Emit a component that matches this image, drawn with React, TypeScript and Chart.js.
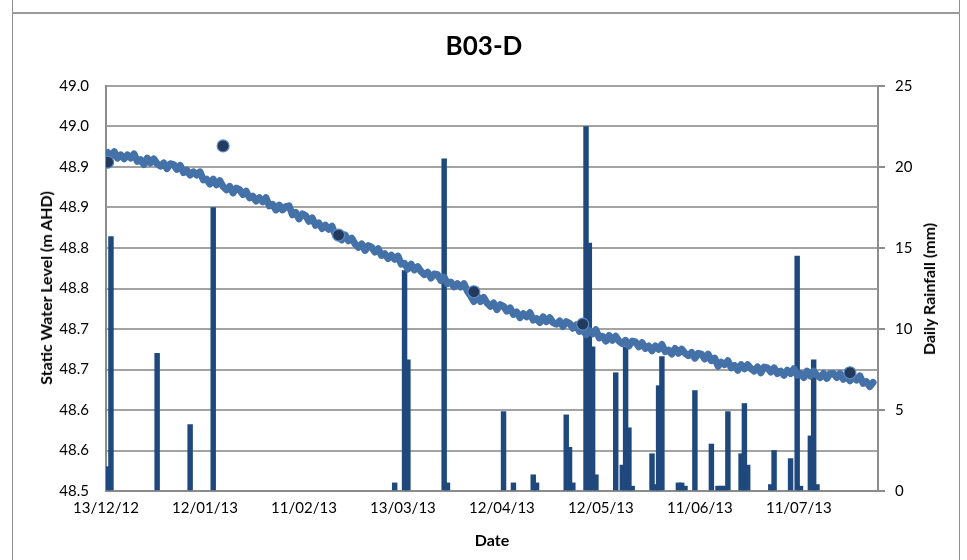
import React, { useEffect, useRef } from 'react';
import { Chart, registerables } from 'chart.js';

Chart.register(...registerables);

const TITLE = 'B03-D';
const X_TITLE = 'Date';
const Y_LEFT_TITLE = 'Static Water Level (m AHD)';
const Y_RIGHT_TITLE = 'Daily Rainfall (mm)';

// x axis: days since 13/12/12
const X_TICK_DAYS = [0, 30, 60, 90, 120, 150, 180, 210];
const X_TICK_LABELS = ['13/12/12', '12/01/13', '11/02/13', '13/03/13', '12/04/13', '12/05/13', '11/06/13', '11/07/13'];
const X_MAX_DAY = 234;

const LEFT_TICK_VALUES = [48.5, 48.55, 48.6, 48.65, 48.7, 48.75, 48.8, 48.85, 48.9, 48.95, 49.0];
const LEFT_TICK_LABELS = ['48.5', '48.6', '48.6', '48.7', '48.7', '48.8', '48.8', '48.9', '48.9', '49.0', '49.0'];
const RIGHT_TICK_VALUES = [0, 5, 10, 15, 20, 25];

// daily rainfall (day since 13/12/12, mm)
const RAIN_DAYS = [0, 1, 15, 25, 32, 87, 90, 91, 102, 103, 120, 123, 129, 130, 139, 140, 141, 145, 146, 147, 148,
  154, 156, 157, 158, 159, 165, 166, 167, 168, 173, 174, 175, 178, 183, 185, 186, 187, 188, 192, 193, 194,
  201, 202, 207, 209, 210, 213, 214, 215];
const RAIN_MM = [1.5, 15.7, 8.5, 4.1, 17.5, 0.5, 13.6, 8.1, 20.5, 0.5, 4.9, 0.5, 1.0, 0.5, 4.7, 2.7, 0.5, 22.5, 15.3, 8.9, 1.0,
  7.3, 1.6, 8.9, 3.9, 0.3, 2.3, 0.4, 6.5, 8.3, 0.5, 0.5, 0.3, 6.2, 2.9, 0.3, 0.3, 0.3, 4.9, 2.3, 5.4, 1.6,
  0.4, 2.5, 2.0, 14.5, 0.3, 3.4, 8.1, 0.4];

// logger water level, one value per day since 13/12/12 (m AHD)
const LEVEL_DAILY = [
  48.918, 48.913, 48.919, 48.911, 48.915, 48.910, 48.915, 48.911, 48.916, 48.907,
  48.909, 48.903, 48.911, 48.905, 48.910, 48.904, 48.901, 48.905, 48.898, 48.904,
  48.903, 48.897, 48.902, 48.893, 48.896, 48.890, 48.894, 48.890, 48.894, 48.884,
  48.885, 48.879, 48.885, 48.878, 48.883, 48.876, 48.872, 48.876, 48.868, 48.874,
  48.872, 48.866, 48.870, 48.862, 48.864, 48.858, 48.862, 48.857, 48.862, 48.852,
  48.854, 48.847, 48.853, 48.847, 48.851, 48.852, 48.841, 48.844, 48.836, 48.842,
  48.840, 48.833, 48.837, 48.828, 48.831, 48.824, 48.828, 48.823, 48.827, 48.816,
  48.817, 48.810, 48.816, 48.809, 48.812, 48.805, 48.801, 48.805, 48.797, 48.803,
  48.801, 48.795, 48.799, 48.791, 48.793, 48.787, 48.791, 48.786, 48.790, 48.780,
  48.781, 48.774, 48.780, 48.773, 48.777, 48.771, 48.767, 48.770, 48.763, 48.768,
  48.767, 48.760, 48.764, 48.756, 48.758, 48.752, 48.756, 48.752, 48.756, 48.747,
  48.741, 48.734, 48.741, 48.734, 48.739, 48.732, 48.728, 48.732, 48.724, 48.730,
  48.728, 48.722, 48.726, 48.718, 48.721, 48.714, 48.719, 48.715, 48.720, 48.711,
  48.713, 48.708, 48.715, 48.709, 48.714, 48.708, 48.706, 48.710, 48.703, 48.709,
  48.707, 48.701, 48.705, 48.697, 48.700, 48.693, 48.698, 48.694, 48.699, 48.689,
  48.691, 48.685, 48.692, 48.686, 48.691, 48.685, 48.682, 48.686, 48.679, 48.685,
  48.684, 48.678, 48.683, 48.676, 48.679, 48.673, 48.679, 48.675, 48.681, 48.672,
  48.674, 48.669, 48.676, 48.670, 48.675, 48.670, 48.667, 48.671, 48.664, 48.670,
  48.669, 48.663, 48.669, 48.661, 48.664, 48.654, 48.659, 48.656, 48.661, 48.652,
  48.655, 48.649, 48.656, 48.651, 48.656, 48.651, 48.648, 48.653, 48.646, 48.653,
  48.652, 48.647, 48.652, 48.645, 48.648, 48.643, 48.649, 48.645, 48.651, 48.643,
  48.645, 48.640, 48.648, 48.642, 48.648, 48.643, 48.640, 48.645, 48.639, 48.645,
  48.645, 48.640, 48.645, 48.638, 48.642, 48.636, 48.641, 48.637, 48.642, 48.633,
  48.635, 48.629, 48.634,
];

// manual dip measurements
const MANUAL_DAYS = [0, 35, 70, 111, 144, 225];
const MANUAL_LEVEL = [48.906, 48.926, 48.816, 48.746, 48.706, 48.646];

const FONT = 'Lato, "DejaVu Sans", sans-serif';
const AXIS_GREY = '#8c8c8c';
const GRID_GREY = '#a3a3a3';

export default function App() {
  const canvasRef = useRef<HTMLCanvasElement | null>(null);

  useEffect(() => {
    const canvas = canvasRef.current;
    if (!canvas) return;
    const chart = new Chart(canvas, {
      type: 'bar',
      data: {
        datasets: [
          {
            type: 'line',
            label: 'Manual',
            data: MANUAL_DAYS.map((d, i) => ({ x: d + 0.5, y: MANUAL_LEVEL[i] })),
            yAxisID: 'yL',
            xAxisID: 'x',
            showLine: false,
            pointRadius: 6,
            pointHoverRadius: 6,
            pointBackgroundColor: '#233a5c',
            pointBorderColor: '#5a8ac6',
            pointBorderWidth: 1.2,
            order: 0,
          } as any,
          {
            type: 'line',
            label: 'Logger',
            data: LEVEL_DAILY.map((v, i) => ({ x: i + 0.5, y: v })),
            yAxisID: 'yL',
            xAxisID: 'x',
            borderColor: '#4571a9',
            borderWidth: 7,
            borderJoinStyle: 'round',
            borderCapStyle: 'round',
            pointRadius: 0,
            tension: 0,
            order: 1,
          } as any,
          {
            type: 'bar',
            label: 'Rain',
            data: RAIN_DAYS.map((d, i) => ({ x: d + 0.5, y: RAIN_MM[i] })),
            yAxisID: 'yR',
            xAxisID: 'x',
            backgroundColor: '#1f497d',
            borderWidth: 0,
            barThickness: 4.8,
            grouped: false,
            order: 2,
          } as any,
        ],
      },
      options: {
        animation: false,
        responsive: false,
        events: [],
        layout: { padding: { top: 86, left: 0, right: 0, bottom: 0 } },
        plugins: {
          legend: { display: false },
          tooltip: { enabled: false },
          title: { display: false },
        },
        scales: {
          x: {
            type: 'linear',
            position: 'bottom',
            min: 0,
            max: X_MAX_DAY,
            offset: false,
            afterBuildTicks: (s: any) => {
              s.ticks = X_TICK_DAYS.map((v) => ({ value: v }));
            },
            afterFit: (s: any) => {
              s.height = 69;
            },
            ticks: {
              autoSkip: false,
              maxRotation: 0,
              minRotation: 0,
              padding: 8,
              color: '#000',
              font: { family: FONT, size: 15 },
              callback: (_v: any, i: number) => X_TICK_LABELS[i],
            },
            grid: { drawOnChartArea: false, drawTicks: false, offset: false },
            border: { display: true, color: AXIS_GREY, width: 2 },
          },
          yL: {
            type: 'linear',
            position: 'left',
            min: 48.5,
            max: 49.0,
            afterBuildTicks: (s: any) => {
              s.ticks = LEFT_TICK_VALUES.map((v) => ({ value: v }));
            },
            afterFit: (s: any) => {
              s.width = 106;
            },
            ticks: {
              padding: 17,
              color: '#000',
              font: { family: FONT, size: 15 },
              callback: (_v: any, i: number) => LEFT_TICK_LABELS[i],
            },
            grid: { color: GRID_GREY, lineWidth: 2, drawTicks: false },
            border: { display: true, color: AXIS_GREY, width: 2 },
          },
          yR: {
            type: 'linear',
            position: 'right',
            min: 0,
            max: 25,
            afterBuildTicks: (s: any) => {
              s.ticks = RIGHT_TICK_VALUES.map((v) => ({ value: v }));
            },
            afterFit: (s: any) => {
              s.width = 89;
            },
            ticks: {
              padding: 10,
              color: '#000',
              font: { family: FONT, size: 15 },
              callback: (v: any) => String(v),
            },
            grid: { drawOnChartArea: false, drawTicks: true, tickLength: 7, color: AXIS_GREY, lineWidth: 2 },
            border: { display: true, color: AXIS_GREY, width: 2 },
          },
        },
      } as any,
    });
    return () => chart.destroy();
  }, []);

  const rotated: React.CSSProperties = {
    position: 'absolute',
    transform: 'translate(-50%, -50%) rotate(-90deg)',
    whiteSpace: 'nowrap',
    fontFamily: FONT,
    fontWeight: 700,
    fontSize: 16,
    lineHeight: '16px',
    color: '#000',
  };

  return (
    <div style={{ position: 'fixed', left: 0, top: 0, width: 967, height: 560, background: '#fff', overflow: 'hidden' }}>
      <div style={{ position: 'absolute', left: 12, top: 0, width: 946, height: 560, borderLeft: '1px solid #8e8e8e', borderRight: '1px solid #8e8e8e' }} />
      <div style={{ position: 'absolute', left: 12, top: 12, width: 948, height: 2, background: '#9a9a9a' }} />
      <canvas ref={canvasRef} width={967} height={560} style={{ position: 'absolute', left: 0, top: 0, width: 967, height: 560 }} />
      <div style={{ position: 'absolute', left: 0, width: 968, top: 32, textAlign: 'center', fontFamily: FONT, fontWeight: 700, fontSize: 26, lineHeight: '26px', color: '#000' }}>{TITLE}</div>
      <div style={{ position: 'absolute', left: 0, width: 984, top: 532, textAlign: 'center', fontFamily: FONT, fontWeight: 700, fontSize: 16, lineHeight: '16px', color: '#000' }}>{X_TITLE}</div>
      <div style={{ ...rotated, left: 46, top: 288 }}>{Y_LEFT_TITLE}</div>
      <div style={{ ...rotated, left: 929, top: 289 }}>{Y_RIGHT_TITLE}</div>
    </div>
  );
}
